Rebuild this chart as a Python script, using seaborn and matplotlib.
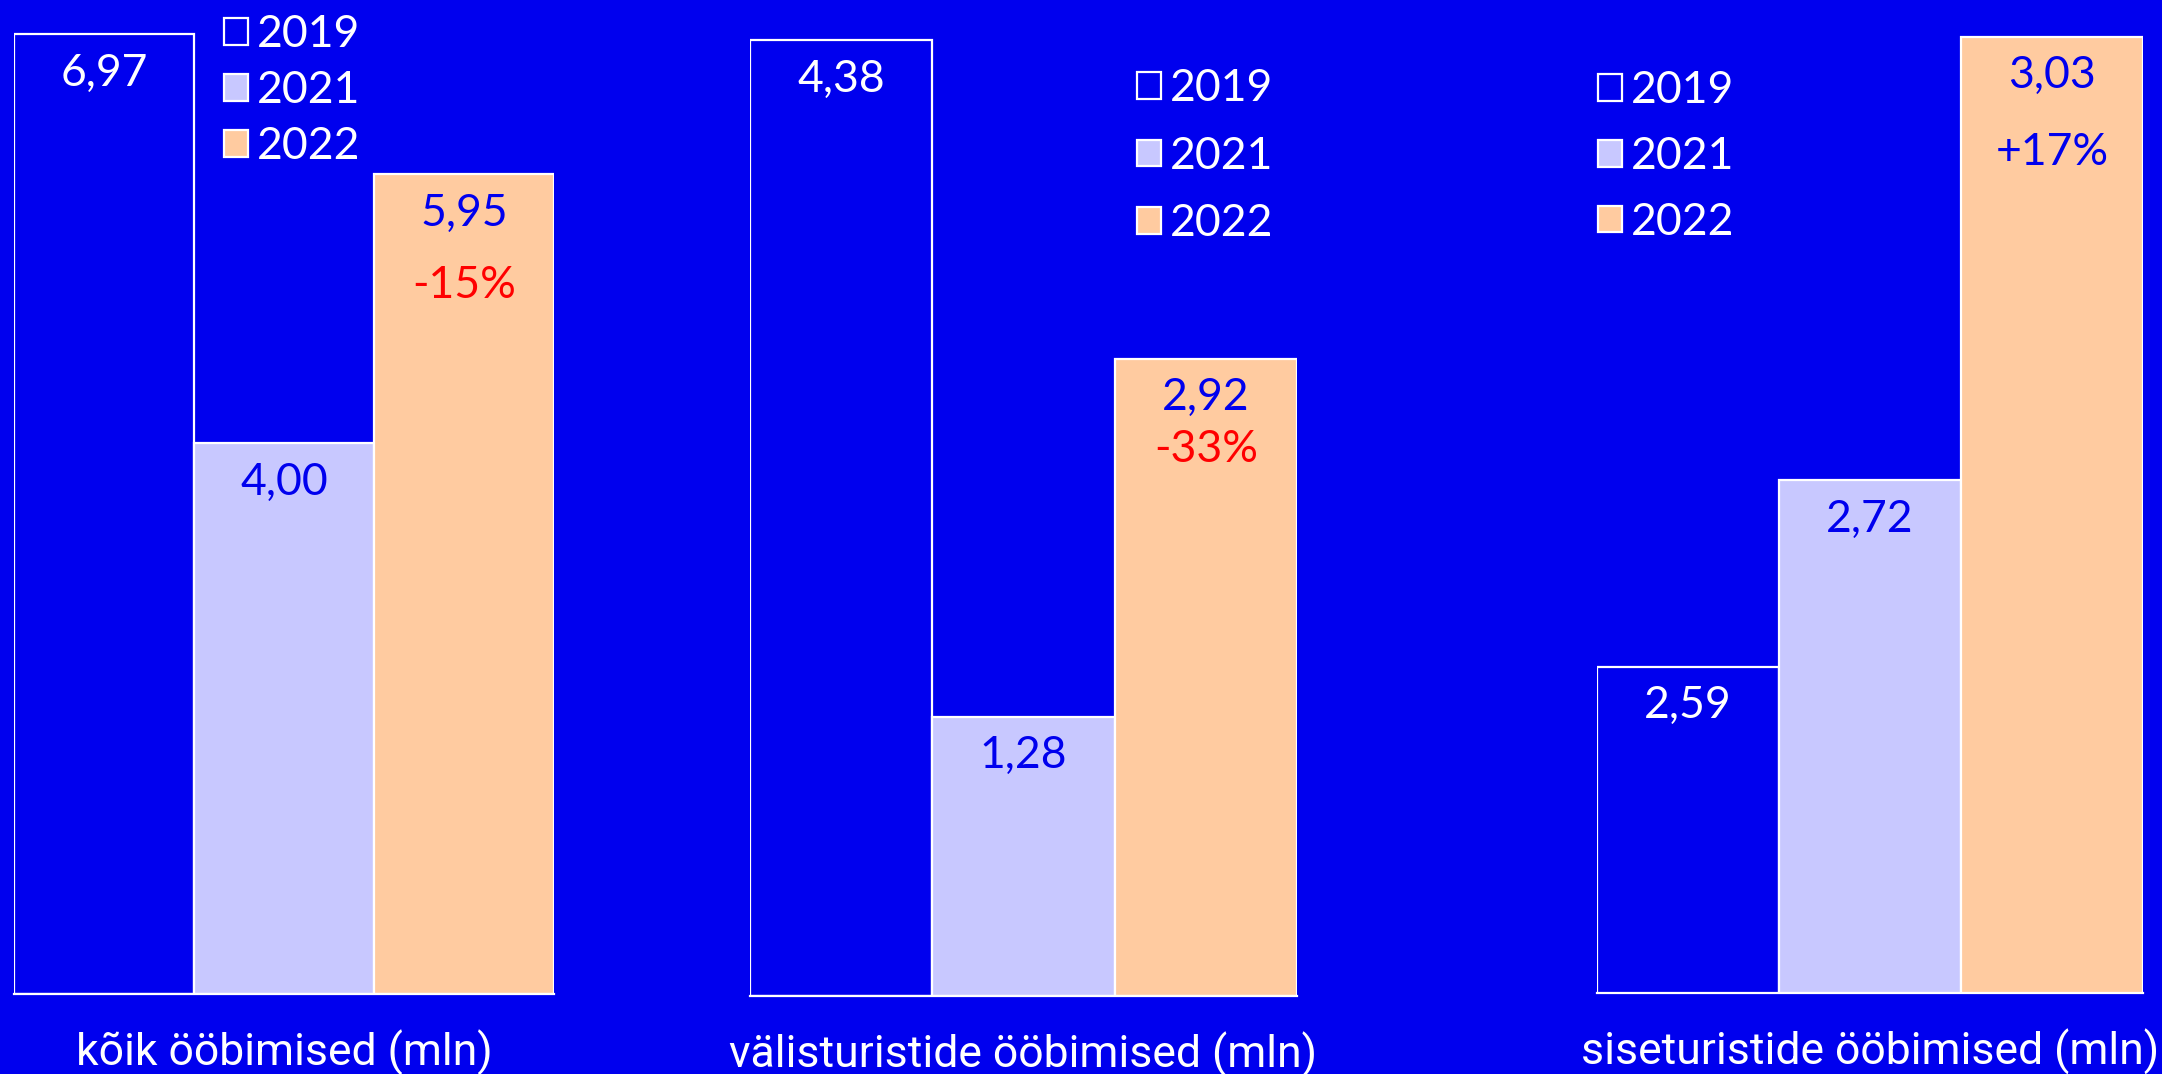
import matplotlib
matplotlib.use("Agg")
import matplotlib.pyplot as plt
from matplotlib.patches import Patch
import seaborn as sns
import pandas as pd

# ---- data ----
categories = ["kõik ööbimised (mln)", "välisturistide ööbimised (mln)", "siseturistide ööbimised (mln)"]
years = ["2019", "2021", "2022"]
values_2019 = [6.97, 4.38, 2.59]
values_2021 = [4.00, 1.28, 2.72]
values_2022 = [5.95, 2.92, 3.03]
change_labels = ["-15%", "-33%", "+17%"]
axis_base = [0.0, 0.0, 2.362]

# ---- style ----
BG = "#0000EE"
LAV = "#C8C8FF"
PEACH = "#FFCBA0"
RED = "#FF0000"
bar_colors = {"2019": BG, "2021": LAV, "2022": PEACH}
label_colors = {"2019": "white", "2021": BG, "2022": BG}

W, H = 2162, 1074
DPI = 100
PX = 72.0 / DPI  # points per pixel

sns.set_theme(style="white")
plt.rcParams["font.family"] = ["Lato", "DejaVu Sans"]

fig = plt.figure(figsize=(W / DPI, H / DPI), dpi=DPI, facecolor=BG)

# panel geometry in pixels: left, right, bottom, top-of-tallest-bar
panels_px = [(14, 554, 994, 34), (750, 1297, 996, 40), (1597, 2143, 993, 36.5)]
pct_offset_px = [111, 91, 116]
legend_px = [(224, 14, 0.34), (1137, 68, 0.60), (1598, 70, 0.56)]

FS = 32

for i, cat in enumerate(categories):
    l, r, b, t = panels_px[i]
    ax = fig.add_axes([l / W, 1 - b / H, (r - l) / W, b / H])
    ax.set_facecolor(BG)
    vals = [values_2019[i], values_2021[i], values_2022[i]]
    df = pd.DataFrame({"year": years, "value": vals})
    sns.barplot(data=df, x="year", y="value", hue="year", palette=bar_colors,
                width=1.0, saturation=1, edgecolor="white", linewidth=1.6,
                legend=False, ax=ax)
    vmax = max(vals)
    base = axis_base[i]
    top = vmax + t * (vmax - base) / (b - t)
    ax.set_ylim(base, top)
    ax.set_xlim(-0.5, 2.5)
    for s in ["top", "left", "right"]:
        ax.spines[s].set_visible(False)
    ax.spines["bottom"].set_color("white")
    ax.spines["bottom"].set_linewidth(1.6)
    ax.set_xticks([])
    ax.set_yticks([])
    ax.set_ylabel("")
    ax.set_xlabel(cat, color="white", fontsize=FS, labelpad=26,
                  family=["Roboto", "DejaVu Sans"])

    for j, (y, v) in enumerate(zip(years, vals)):
        txt = f"{v:.2f}".replace(".", ",")
        ax.annotate(txt, xy=(j, v), xytext=(0, -39 * PX), textcoords="offset points",
                    ha="center", va="center", color=label_colors[y], fontsize=FS)
    chg = change_labels[i]
    ax.annotate(chg, xy=(2, values_2022[i]), xytext=(0, -pct_offset_px[i] * PX),
                textcoords="offset points", ha="center", va="center",
                color=RED if chg.startswith("-") else BG, fontsize=FS)

    handles = [Patch(facecolor=bar_colors[y], edgecolor="white", linewidth=1.6, label=y)
               for y in years]
    lx, ly, sp = legend_px[i]
    leg = fig.legend(handles=handles, loc="upper left",
                     bbox_to_anchor=(lx / W, 1 - ly / H), frameon=False,
                     fontsize=FS, labelcolor="white", borderpad=0, borderaxespad=0,
                     handlelength=0.55, handleheight=0.55, handletextpad=0.18,
                     labelspacing=sp)

fig.savefig("out.png", dpi=DPI, facecolor=BG)
